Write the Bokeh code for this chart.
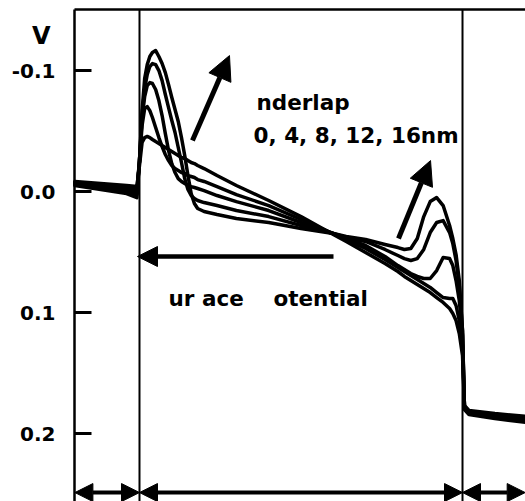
import numpy as np
from bokeh.plotting import figure
from bokeh.models import (Range1d, LinearAxis, FixedTicker, PrintfTickFormatter,
                          Arrow, NormalHead)
from bokeh.core.properties import value
from bokeh.embed import file_html
from bokeh.resources import INLINE

# position along the device (nm); gate spans 0..50
position_nm = [-10, -6, -2, -0.4, 0, 0.4, 0.8, 1.2, 1.6, 2, 2.5, 3, 3.5, 4, 4.5, 5, 5.5, 6,
               6.5, 7, 7.5, 8, 8.5, 9, 10, 12, 15, 20, 25, 30, 32, 35, 38, 40, 41, 42, 43,
               44, 45, 46, 47, 48, 48.5, 49, 49.5, 50, 50.3, 51, 55, 60]

underlap_nm = [0, 4, 8, 12, 16]

# surface potential (mV) for each underlap
potential_0nm_mV = [-8.3, -6.6, -5.0, -4.1, -21.5, -40.5, -44.6, -45.5, -44.6, -43.0, -41.3, -39.7,
                    -38.0, -36.4, -34.7, -33.1, -31.4, -29.8, -28.1, -27.3, -25.6, -24.0, -23.1,
                    -21.5, -19.0, -13.2, -5.0, 7.4, 20.7, 35.5, 41.3, 50.4, 59.5, 66.1, 70.2, 73.6,
                    76.9, 80.2, 83.5, 87.6, 91.7, 96.7, 100.8, 106.6, 117.3, 135.5, 176.8, 181.0,
                    183.5, 185.9]
potential_4nm_mV = [-7.4, -5.8, -3.3, -1.7, -25.6, -54.5, -68.6, -70.2, -66.9, -61.2, -52.9, -44.6,
                    -37.2, -30.6, -25.6, -21.5, -19.0, -17.4, -15.7, -14.9, -13.2, -12.4, -11.6,
                    -9.9, -8.3, -4.1, 2.5, 11.6, 23.1, 34.7, 39.7, 47.1, 56.2, 62.8, 66.1, 69.4,
                    72.7, 76.0, 79.3, 83.5, 87.6, 88.4, 88.4, 94.2, 106.6, 127.3, 177.7, 181.8,
                    184.3, 186.8]
potential_8nm_mV = [-6.6, -4.1, -1.7, 0.8, -25.6, -60.3, -78.5, -87.6, -90.1, -89.3, -84.3, -75.2,
                    -62.8, -47.9, -33.9, -23.1, -15.7, -10.7, -8.3, -6.6, -5.0, -4.1, -3.3, -2.5,
                    -0.8, 3.3, 8.3, 15.7, 25.6, 34.7, 38.8, 44.6, 53.7, 61.2, 64.5, 67.8, 70.2,
                    71.9, 71.9, 65.3, 54.5, 55.4, 61.2, 73.6, 90.1, 119.0, 178.5, 182.6, 185.1,
                    188.4]
potential_12nm_mV = [-5.8, -3.3, 0.0, 2.5, -25.6, -62.8, -85.1, -96.7, -103.3, -105.8, -104.9,
                     -100.0, -91.7, -80.2, -69.4, -58.7, -48.8, -36.4, -24.0, -10.7, -1.7, 3.3,
                     5.8, 7.4, 9.1, 11.6, 15.7, 20.7, 28.1, 34.7, 38.0, 41.3, 47.9, 52.9, 55.4,
                     57.0, 55.4, 47.9, 33.9, 25.6, 24.0, 33.9, 43.0, 57.0, 77.7, 114.9, 179.3,
                     183.5, 185.9, 189.2]
potential_16nm_mV = [-5.0, -1.7, 1.7, 5.0, -25.6, -66.9, -93.4, -104.9, -111.6, -114.9, -116.5,
                     -111.6, -105.8, -98.3, -88.4, -77.7, -67.8, -57.9, -44.6, -29.8, -13.2, 1.7,
                     9.9, 14.0, 16.5, 19.0, 22.3, 25.6, 30.6, 34.7, 37.2, 39.7, 43.8, 46.3, 47.9,
                     47.1, 38.8, 20.7, 8.3, 5.0, 11.6, 28.1, 38.8, 52.1, 73.6, 114.9, 180.2,
                     184.3, 187.6, 190.9]

curves_mV = [potential_0nm_mV, potential_4nm_mV, potential_8nm_mV,
             potential_12nm_mV, potential_16nm_mV]

gate_edges_nm = [0, 50]
region_edges_nm = [-10, 0, 50, 59.7]
y_ticks_V = [-0.1, 0.0, 0.1, 0.2]
y_unit_label = "V"

FONT = "DejaVu Sans"

# plotting box (data units) and full-canvas view
X_LEFT, X_RIGHT = -10.06, 59.75
Y_TOP, Y_BOTTOM = -0.1504, 0.2562

p = figure(width=525, height=501, output_backend="svg", toolbar_location=None,
           x_range=Range1d(-21.515, X_RIGHT), y_range=Range1d(Y_BOTTOM, -0.1579),
           x_axis_location=None, y_axis_location=None,
           min_border=0, min_border_left=0, min_border_right=0,
           min_border_top=0, min_border_bottom=0)
p.grid.grid_line_color = None
p.outline_line_color = None
p.background_fill_color = "white"
p.border_fill_color = "white"

yaxis = LinearAxis(ticker=FixedTicker(ticks=y_ticks_V),
                   formatter=PrintfTickFormatter(format="%.1f"),
                   fixed_location=X_LEFT, bounds=(Y_TOP, Y_BOTTOM),
                   axis_line_width=2.5, axis_line_color="black",
                   major_tick_in=17, major_tick_out=0, major_tick_line_width=3,
                   major_tick_line_color="black",
                   minor_tick_in=0, minor_tick_out=0,
                   major_label_standoff=19,
                   major_label_text_font=FONT, major_label_text_font_style="bold",
                   major_label_text_font_size="20px", major_label_text_color="black")
p.add_layout(yaxis, "left")

top = LinearAxis(ticker=FixedTicker(ticks=[]), fixed_location=Y_TOP, bounds=(X_LEFT, X_RIGHT),
                 axis_line_width=2.5, axis_line_color="black",
                 major_tick_in=0, major_tick_out=0, minor_tick_in=0, minor_tick_out=0,
                 major_label_text_font_size="0px", major_label_standoff=0)
p.add_layout(top, "above")

# gate edges
p.segment(x0=gate_edges_nm, y0=[Y_TOP] * len(gate_edges_nm),
          x1=gate_edges_nm, y1=[Y_BOTTOM] * len(gate_edges_nm),
          line_color="black", line_width=2)

x = np.array(position_nm, dtype=float)
for vals in curves_mV:
    p.line(x, np.array(vals) / 1000.0, line_width=3.5, line_color="black",
           line_join="round", line_cap="round")

# annotation arrows
def add_arrow(x0, y0, x1, y1, w, hs):
    p.add_layout(Arrow(end=NormalHead(size=hs, fill_color="black", line_color="black"),
                       x_start=x0, y_start=y0, x_end=x1, y_end=y1,
                       line_width=w, line_color="black"))

add_arrow(8.2, -0.0421, 13.93, -0.1124, 5, 24)
add_arrow(40.09, 0.0388, 45.05, -0.0256, 5, 24)
add_arrow(30.03, 0.0537, -0.31, 0.0537, 4.5, 20)

y_dim = 0.2488
for a, b in zip(region_edges_nm[:-1], region_edges_nm[1:]):
    p.add_layout(Arrow(start=NormalHead(size=18, fill_color="black", line_color="black"),
                       end=NormalHead(size=18, fill_color="black", line_color="black"),
                       x_start=a, y_start=y_dim, x_end=b, y_end=y_dim,
                       line_width=4, line_color="black"))

txt = dict(text_font=value(FONT), text_font_style="bold", text_font_size="21.5px",
           text_color="black", text_baseline="alphabetic", text_align="left")
p.text(x=[18.11], y=[-0.0736], text=["nderlap"], **txt)
p.text(x=[17.65], y=[-0.0463], text=["0, 4, 8, 12, 16nm"], **txt)
p.text(x=[4.49], y=[0.0884], text=["ur ace"], **txt)
p.text(x=[20.74], y=[0.0884], text=["otential"], **txt)

p.text(x=[-15.2], y=[-0.1285], text=[y_unit_label], text_font=value(FONT),
       text_font_style="bold", text_font_size="24px", text_color="black",
       text_align="center", text_baseline="alphabetic")

open("out.html", "w").write(file_html(p, INLINE))
